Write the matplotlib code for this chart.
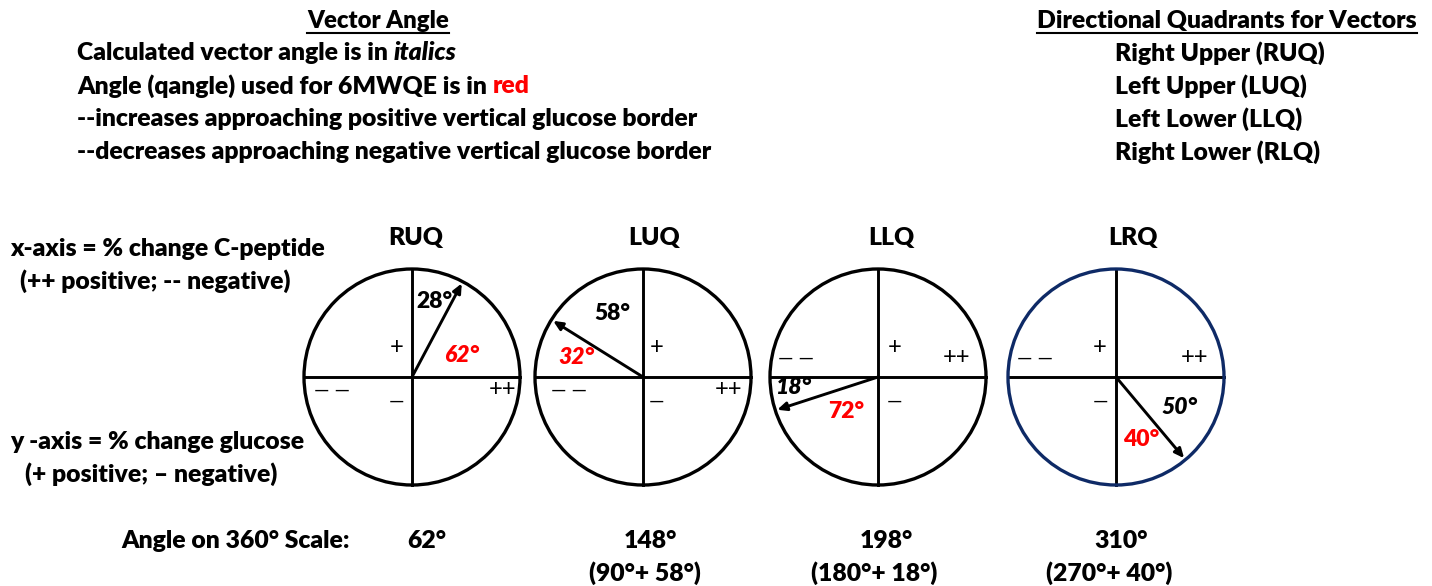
import matplotlib
matplotlib.use('Agg')
import matplotlib.pyplot as plt
from matplotlib.patches import Circle
import numpy as np

# ---------------- data ----------------
quadrants = ['RUQ', 'LUQ', 'LLQ', 'LRQ']
angle_360 = [62, 148, 198, 310]
vector_labels = ['28°', '58°', '18°', '50°']      # black labels
vector_italic = [False, False, True, True]
qangle_labels = ['62°', '32°', '72°', '40°']      # red labels
qangle_italic = [True, True, False, False]
scale_labels = ['62°', '148°', '198°', '310°']
scale_sub = ['', '(90°+ 58°)', '(180°+ 18°)', '(270°+ 40°)']

left_title = 'Vector Angle'
right_title = 'Directional Quadrants for Vectors'
right_lines = ['Right Upper (RUQ)', 'Left Upper (LUQ)', 'Left Lower (LLQ)', 'Right Lower (RLQ)']

FONT = ['Lato', 'DejaVu Sans']
RED = '#FF0000'
NAVY = '#0E2A66'
WEIGHT = 'heavy'

W, H = 1432, 586
fig = plt.figure(figsize=(W / 100, H / 100), dpi=100)
ax = fig.add_axes([0, 0, 1, 1])
ax.set_xlim(0, W)
ax.set_ylim(H, 0)
ax.axis('off')
fig.canvas.draw()
renderer = fig.canvas.get_renderer()
inv = ax.transData.inverted()

FS = 17.8


def put(x, y, s, ha='left', color='black', style='normal', weight=WEIGHT, size=FS, family=FONT):
    return ax.text(x, y, s, ha=ha, va='center', color=color, fontstyle=style,
                   fontweight=weight, fontsize=size, family=family)


def bbox(t):
    return t.get_window_extent(renderer).transformed(inv)


def runs(x, y, parts):
    for s, color, style in parts:
        t = put(x, y, s, color=color, style=style)
        b = bbox(t)
        x = max(b.x0, b.x1)


def underline(t):
    b = bbox(t)
    yb = max(b.y0, b.y1) + 1
    ax.plot([b.x0, b.x1], [yb, yb], color='black', lw=1.5)


# ---------------- header text ----------------
t = put(378, 21, left_title, ha='center', size=17.2)
underline(t)
runs(77, 53, [('Calculated vector angle is in ', 'black', 'normal'), ('italics', 'black', 'italic')])
runs(77, 86, [('Angle (qangle) used for 6MWQE is in ', 'black', 'normal'), ('red', RED, 'normal')])
put(77, 119, '--increases approaching positive vertical glucose border')
put(77, 152, '--decreases approaching negative vertical glucose border')

t = put(1227, 21, right_title, ha='center')
underline(t)
for i, s in enumerate(right_lines):
    put(1115, 53 + i * 33, s)

put(10, 249, 'x-axis = % change C-peptide')
put(20, 281, '(++ positive; -- negative)')
put(10, 442, 'y -axis = % change glucose')
put(25, 474, '(+ positive; – negative)')

# ---------------- circles ----------------
cxs = [412, 643, 878, 1116]
title_x = [416, 654, 891, 1133]
cy = 377
R = 108

plus_pos = [(-15, -30), (14, -30), (17, -30), (-16, -30)]
minus_pos = [(-15, 24), (14, 24), (17, 24), (-16, 24)]
pp_pos = [(90, 12), (86, 12), (78, -20), (78, -20)]
mm_pos = [(-80, 13), (-74, 13), (-82, -19), (-81, -19)]
vlab_pos = [(22, -75), (-31, -63), (-85, 10), (64, 31)]
qlab_pos = [(50, -22), (-67, -20), (-32, 34), (25, 63)]

for i, q in enumerate(quadrants):
    cx = cxs[i]
    ec = NAVY if i == 3 else 'black'
    ax.add_patch(Circle((cx, cy), R, fill=False, ec=ec, lw=2.4, zorder=2))
    ax.plot([cx - R, cx + R], [cy, cy], color='black', lw=2.1, zorder=1)
    ax.plot([cx, cx], [cy - R, cy + R], color='black', lw=2.1, zorder=1)
    put(title_x[i], 238, q, ha='center')

    a = np.deg2rad(angle_360[i])
    ex, ey = cx + (R - 2) * np.cos(a), cy - (R - 2) * np.sin(a)
    ax.annotate('', xy=(ex, ey), xytext=(cx, cy),
                arrowprops=dict(arrowstyle='-|>,head_length=0.55,head_width=0.25',
                                color='black', lw=2.1, shrinkA=0, shrinkB=0), zorder=3)

    put(cx + plus_pos[i][0], cy + plus_pos[i][1], '+', ha='center', weight='normal', size=17)
    put(cx + minus_pos[i][0], cy + minus_pos[i][1], '—', ha='center', weight='normal', size=14)
    put(cx + pp_pos[i][0], cy + pp_pos[i][1], '++', ha='center', weight='normal', size=17)
    put(cx + mm_pos[i][0], cy + mm_pos[i][1], '— —', ha='center', weight='normal', size=14)
    put(cx + vlab_pos[i][0], cy + vlab_pos[i][1], vector_labels[i], ha='center',
        style='italic' if vector_italic[i] else 'normal', size=16.5)
    put(cx + qlab_pos[i][0], cy + qlab_pos[i][1], qangle_labels[i], ha='center', color=RED,
        style='italic' if qangle_italic[i] else 'normal', size=16.5)

# ---------------- bottom row ----------------
put(121, 541, 'Angle on 360° Scale:')
main_x = [427, 650, 886, 1121]
sub_x = [427, 645, 874, 1109]
for i in range(4):
    put(main_x[i], 541, scale_labels[i], ha='center')
    if scale_sub[i]:
        put(sub_x[i], 573, scale_sub[i], ha='center')

fig.savefig('out.png', dpi=100)
